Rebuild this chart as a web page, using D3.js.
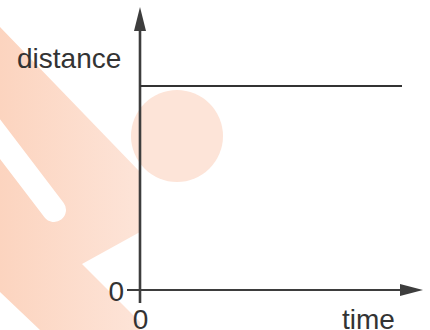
<!DOCTYPE html>
<html>
<head>
<meta charset="utf-8">
<script src="https://cdn.jsdelivr.net/npm/d3@7/dist/d3.min.js"></script>
<style>
  html, body { margin: 0; padding: 0; background: #ffffff; }
  svg { display: block; }
  text { font-family: "Liberation Sans", Arial, Helvetica, sans-serif; fill: #333333; }
</style>
</head>
<body>
<svg id="chart" width="430" height="330"></svg>
<script>
// ---- data ----
const times = [0, 10];          // time values (arbitrary units)
const distances = [8, 8];       // distance stays constant
const xTickValues = [0];
const yTickValues = [0];
const xTickLabels = ["0"];
const yTickLabels = ["0"];
const xTitle = "time";
const yTitle = "distance";

// ---- layout ----
const svg = d3.select("#chart");

const x = d3.scaleLinear().domain([0, 10]).range([140, 402]);
const y = d3.scaleLinear().domain([0, 10]).range([290, 35]);

// ---- watermark (background logo, pale peach) ----
const defs = svg.append("defs");
const grad = defs.append("linearGradient").attr("id", "wm")
  .attr("x1", "0").attr("y1", "0").attr("x2", "1").attr("y2", "0");
grad.append("stop").attr("offset", "0%").attr("stop-color", "#fcd4bf");
grad.append("stop").attr("offset", "100%").attr("stop-color", "#fde4d8");

const wm = svg.append("g").attr("class", "watermark");
wm.append("path")
  .attr("d", "M0,27 L140,172 L140,232 L82,264 L140,322 L140,330 L40,330 L0,292 Z")
  .attr("fill", "url(#wm)");
wm.append("circle").attr("cx", 177).attr("cy", 136).attr("r", 46).attr("fill", "#fde4d8");
wm.append("line")
  .attr("x1", -10).attr("y1", 126).attr("x2", 54).attr("y2", 210)
  .attr("stroke", "#ffffff").attr("stroke-width", 24).attr("stroke-linecap", "round");

// ---- axes ----
const axisColor = "#3d3d3d";

// y axis line (extends below x axis as the x tick at 0)
svg.append("line")
  .attr("x1", x(0)).attr("x2", x(0))
  .attr("y1", 303).attr("y2", 26)
  .attr("stroke", axisColor).attr("stroke-width", 2.6);
// y arrow head
svg.append("path")
  .attr("d", `M${x(0)},7 L${x(0) - 6},31 L${x(0) + 6},31 Z`)
  .attr("fill", axisColor);

// x axis line (extends left of y axis as the y tick at 0)
svg.append("line")
  .attr("x1", 127).attr("x2", 404)
  .attr("y1", y(0)).attr("y2", y(0))
  .attr("stroke", axisColor).attr("stroke-width", 1.8);
// x arrow head
svg.append("path")
  .attr("d", `M423,${y(0)} L400,${y(0) - 6} L400,${y(0) + 6} Z`)
  .attr("fill", axisColor);

// tick labels via d3 axes (no tick lines / domain)
const yAxis = d3.axisLeft(y).tickValues(yTickValues)
  .tickFormat((d, i) => yTickLabels[i]).tickSize(0).tickPadding(0);
const gy = svg.append("g").attr("transform", `translate(124,0)`).call(yAxis);
gy.select(".domain").remove();
gy.selectAll("text").attr("font-size", 28).attr("dy", "0.36em")
  .style("font-family", "'Liberation Sans', Arial, sans-serif").attr("fill", "#333");

const xAxis = d3.axisBottom(x).tickValues(xTickValues)
  .tickFormat((d, i) => xTickLabels[i]).tickSize(0).tickPadding(0);
const gx = svg.append("g").attr("transform", `translate(0,329)`).call(xAxis);
gx.select(".domain").remove();
gx.selectAll("text").attr("font-size", 28).attr("dy", "0")
  .style("font-family", "'Liberation Sans', Arial, sans-serif").attr("fill", "#333");

// axis titles
svg.append("text").attr("x", 17).attr("y", 68)
  .attr("font-size", 28).text(yTitle);
svg.append("text").attr("x", 342).attr("y", 329)
  .attr("font-size", 28).text(xTitle);

// ---- data line ----
const pts = times.map((t, i) => [t, distances[i]]);
svg.append("path")
  .datum(pts)
  .attr("d", d3.line().x(d => x(d[0])).y(d => y(d[1])))
  .attr("fill", "none")
  .attr("stroke", "#333333")
  .attr("stroke-width", 2.2);
</script>
</body>
</html>
